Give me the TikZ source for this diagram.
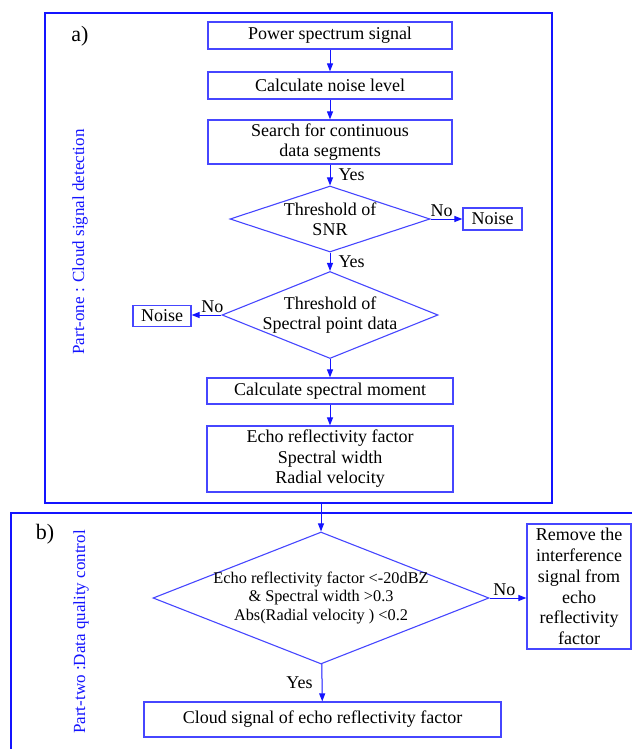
\documentclass[tikz,border=0pt]{standalone}
\usepackage{fontspec}
\setmainfont{Liberation Serif}
\usetikzlibrary{shapes.geometric, arrows.meta}
\definecolor{frameblue}{RGB}{20,20,255}
\definecolor{boxblue}{RGB}{70,70,255}

\begin{document}
\begin{tikzpicture}[x=1pt, y=-1pt,
    every node/.style={inner sep=0pt, align=center, font=\fontsize{18}{20.5}\selectfont},
    box/.style={rectangle, draw=boxblue, line width=1.2pt},
    dia/.style={diamond, draw=boxblue, line width=1.1pt},
    arr/.style={draw=frameblue, line width=1pt, -{Triangle[length=8pt, width=6pt]}},
    frame/.style={draw=frameblue, line width=2pt},
    part/.style={rotate=90, text=frameblue, font=\fontsize{17}{20}\selectfont}]
      \useasboundingbox (0,0) rectangle (632,749);
      % part a
      \draw[frame] (45,13) rectangle (552,503);
      \node(la) at (80,36) {\fontsize{22}{24}\selectfont a)};
      \node[part] (pa) at (80,242) {Part-one : Cloud signal detection};
      \node[box, minimum width=244pt, minimum height=27pt] (power) at (330,35.5) {Power spectrum signal};
      \node[box, minimum width=244pt, minimum height=27pt] (level) at (330,85.5) {Calculate noise level};
      \node[box, minimum width=244pt, minimum height=44pt] (search) at (330,142) {Search for continuous\\data segments};
      \node[dia, minimum width=200pt, minimum height=66pt,
            label={center:Threshold of\\SNR}] (snr) at (330,219) {};
      \node[box, minimum width=59pt, minimum height=22pt] (noise1) at (492.5,219) {Noise};
      \node[dia, minimum width=216pt, minimum height=87pt,
            label={center:Threshold of\\Spectral point data}] (spd) at (330,315) {};
      \node[box, minimum width=58pt, minimum height=21pt] (noise2) at (162,316) {Noise};
      \node[box, minimum width=246pt, minimum height=26pt] (moment) at (330,391) {Calculate spectral moment};
      \node[box, minimum width=246pt, minimum height=66pt] (params) at (330,459) {Echo reflectivity factor\\Spectral width\\Radial velocity};
      \draw (power) edge[arr] (level);
      \draw (level) edge[arr] (search);
      \draw (search) edge[arr] node[right=8pt] {Yes} (snr);
      \draw (snr.east) edge[arr] node[pos=.35, above=2pt] {No} (snr.east -| noise1.west);
      \draw (snr) edge[arr] node[right=8pt] {Yes} (spd);
      \draw (spd.west) edge[arr] node[pos=.3, above=2pt] {No} (spd.west -| noise2.east);
      \draw (spd) edge[arr] (moment);
      \draw (moment) edge[arr] (params);
      % part b
      \draw[frame] (632,513) -- (11,513) -- (11,749);
      \node(lb) at (45,534) {\fontsize{22}{24}\selectfont b)};
      \node[part] (pb) at (81,632) {Part-two :Data quality control};
      \coordinate (out) at (321,503);
      \node[dia, minimum width=336pt, minimum height=132pt,
            label={[font=\fontsize{16.3}{18.2}\selectfont]center:Echo reflectivity factor {<}-20dBZ\\
              \& Spectral width {>}0.3\\Abs(Radial velocity ) {<}0.2}] (qc) at (321,598) {};
      \node[box, minimum width=104pt, minimum height=125pt, font=\fontsize{18}{20.8}\selectfont] (remove) at (579,586.5)
            {Remove the\\interference\\signal from\\echo\\reflectivity\\factor};
      \node[box, minimum width=357pt, minimum height=35pt] (cloud) at (322.5,719.5) {Cloud signal of echo reflectivity factor};
      \draw (out) edge[arr] (qc);
      \draw (qc.east) edge[arr] node[pos=.4, above=2pt] {No} (qc.east -| remove.west);
      \draw (qc) edge[arr] node[left=9pt] {Yes} (cloud);
    \end{tikzpicture}
\end{document}
